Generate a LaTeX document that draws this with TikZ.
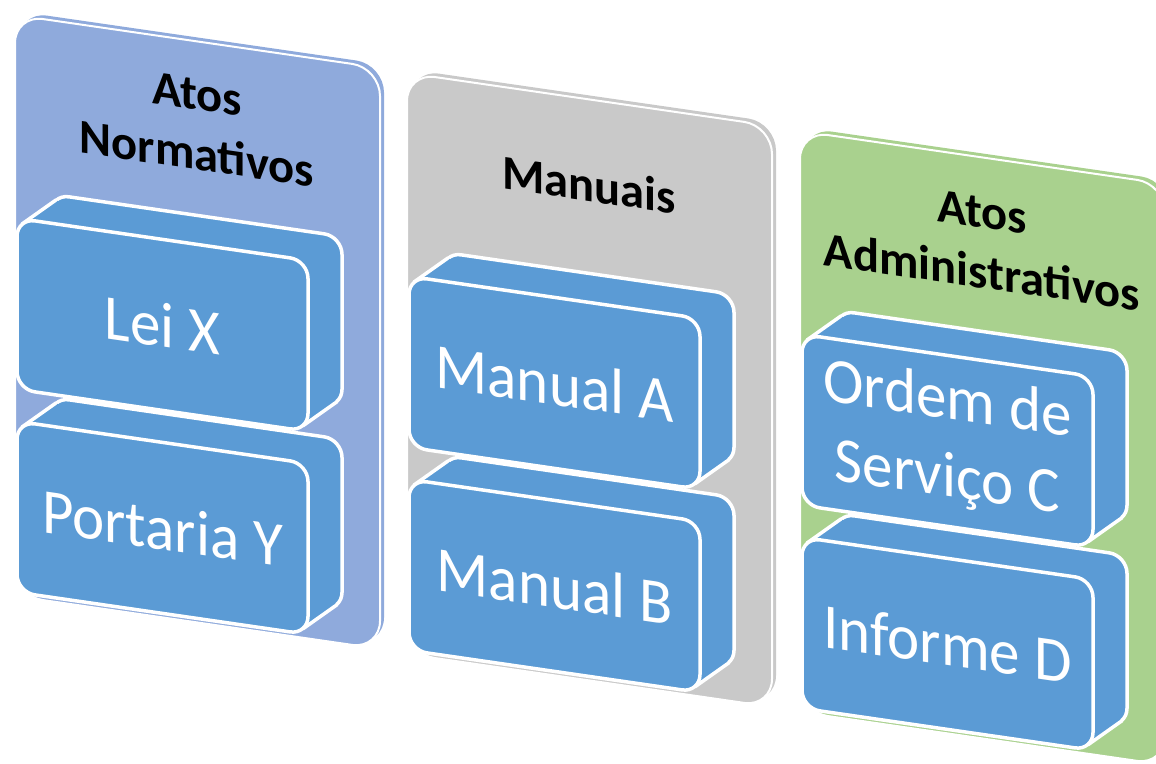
\documentclass[tikz,border=0pt]{standalone}
\usepackage{fontspec}
\setmainfont{Carlito}
\definecolor{panelA}{HTML}{8FAADC}
\definecolor{panelB}{HTML}{C9C9C9}
\definecolor{panelC}{HTML}{A9D18E}
\definecolor{boxblue}{HTML}{5B9BD5}
\tikzset{
  panelback/.style={fill=#1, rounded corners=28pt},
  panelfront/.style={fill=#1, draw=white, line width=2pt, rounded corners=28pt},
  boxface/.style={fill=boxblue, draw=white, line width=3.5pt, rounded corners=18pt},
  boxbody/.style={fill=boxblue},
  boxedge/.style={draw=white, line width=3.5pt, line cap=round},
  headtext/.style={font=\fontsize{48.5}{60}\selectfont\bfseries, text=black, align=center, inner sep=0pt, transform shape},
  itemtext/.style={font=\fontsize{61}{74}\selectfont, text=white, align=center, inner sep=0pt, transform shape, yscale=1.05},
}
\newcommand{\panelshape}[1]{%
  \path[panelback=#1] (4,4) rectangle (369,-577);
  \path[panelfront=#1] (0,0) rectangle (365,-581);
}
\newcommand{\itemblock}[3]{%
  \path[boxface] (36,-#1+29) rectangle (327,-#1-142);
  \path[boxbody] (7,-#1-5) -- (41,-#1+24) -- (322,-#1-137) -- (288,-#1-166) -- cycle;
  \draw[boxedge] (7,-#1-5) -- (41,-#1+24);
  \draw[boxedge] (288,-#1-166) -- (322,-#1-137);
  \path[boxface] (2,-#1) rectangle (293,-#1-171);
  \node[itemtext] (#2) at (147.5,-#1-85.5) {#3};
}
\begin{document}
\begin{tikzpicture}[x=1pt, y=1pt]
\useasboundingbox (0,-763) rectangle (1156,0);
\clip (0,-763) rectangle (1156,0);
\begin{scope}[shift={(15,-15)}, yslant=-0.145]
  \panelshape{panelA}
  \node[headtext] (hA) at (182,-83) {Atos\\Normativos};
  \itemblock{406}{pY}{Portaria Y}
  \itemblock{203}{lX}{Lei X}
\end{scope}
\begin{scope}[shift={(407,-73)}, yslant=-0.145]
  \panelshape{panelB}
  \node[headtext] (hB) at (182,-85) {Manuais};
  \itemblock{406}{mB}{Manual B}
  \itemblock{203}{mA}{Manual A}
\end{scope}
\begin{scope}[shift={(800,-131)}, yslant=-0.145]
  \panelshape{panelC}
  \node[headtext] (hC) at (182,-85) {Atos\\Administrativos};
  \itemblock{406}{iD}{Informe D}
  \itemblock{203}{oC}{Ordem de\\Serviço C}
\end{scope}
\end{tikzpicture}
\end{document}
